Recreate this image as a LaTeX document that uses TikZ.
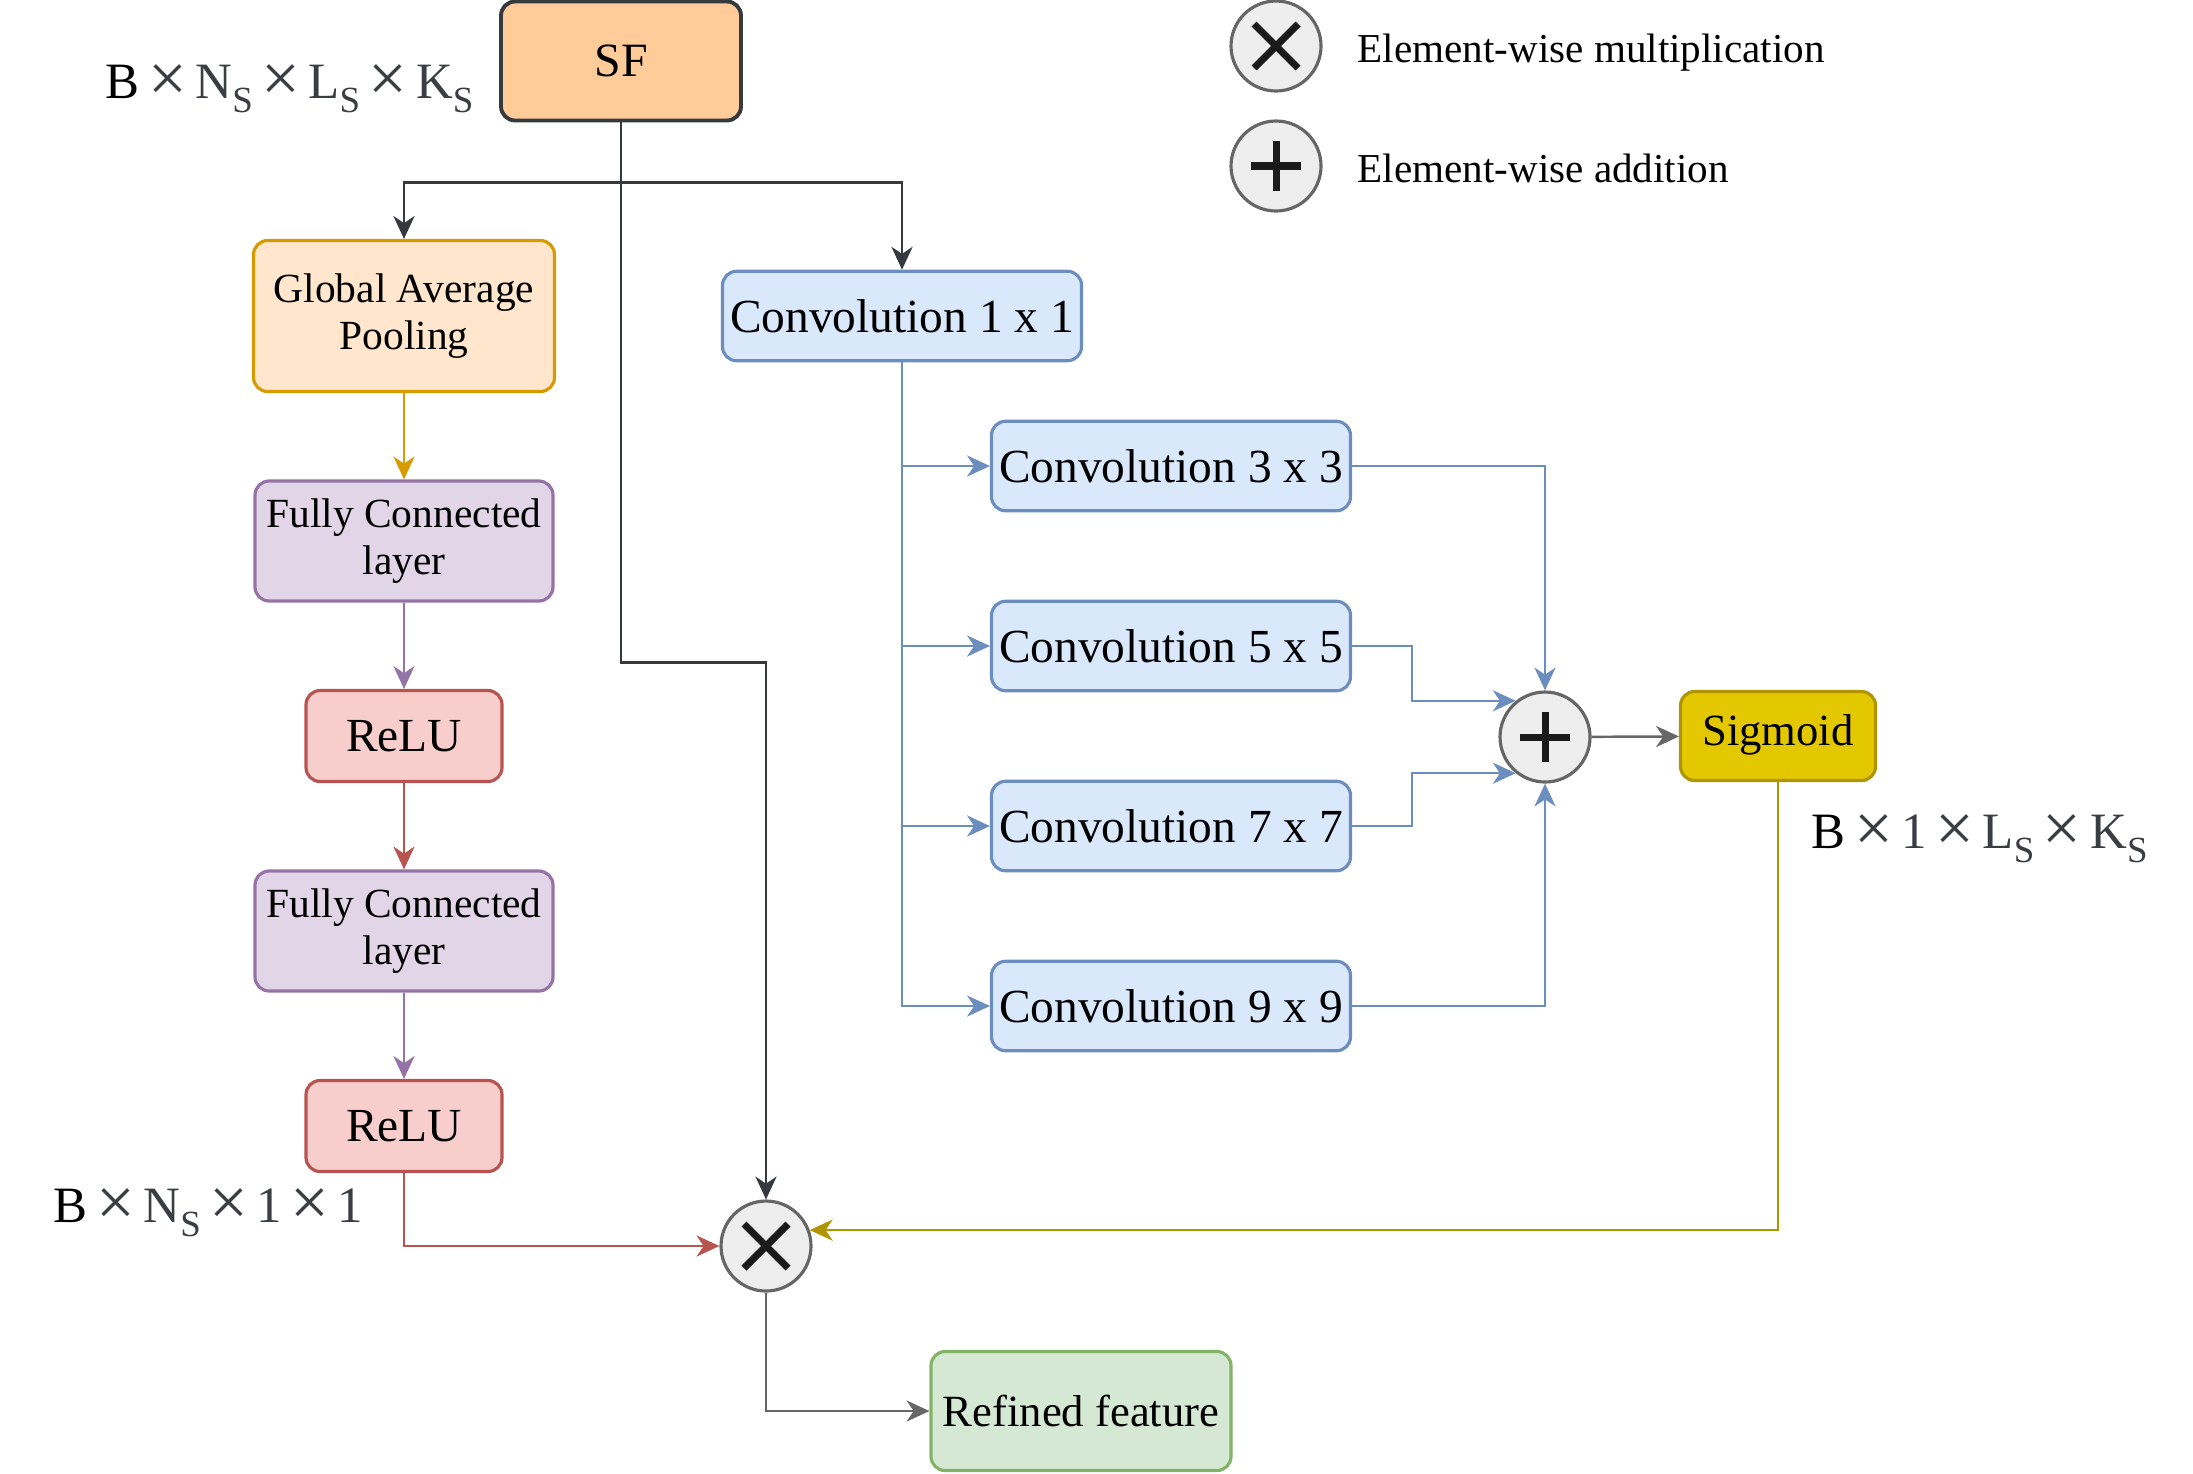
\documentclass[tikz,border=0pt]{standalone}
\usepackage{fontspec}
\usepackage{graphicx}
\setmainfont{Liberation Serif}
\usetikzlibrary{
  calc,positioning,
  arrows.meta
}

\definecolor{sfFill}{HTML}{FFCC99}\definecolor{sfLine}{HTML}{36393D}
\definecolor{gapFill}{HTML}{FFE6CC}\definecolor{gapLine}{HTML}{D79B00}
\definecolor{fcFill}{HTML}{E1D5E7}\definecolor{fcLine}{HTML}{9673A6}
\definecolor{reluFill}{HTML}{F8CECC}\definecolor{reluLine}{HTML}{B85450}
\definecolor{convFill}{HTML}{DAE8FC}\definecolor{convLine}{HTML}{6C8EBF}
\definecolor{sigFill}{HTML}{E3C800}\definecolor{sigLine}{HTML}{B09500}
\definecolor{refFill}{HTML}{D5E8D4}\definecolor{refLine}{HTML}{82B366}
\definecolor{opFill}{HTML}{EEEEEE}\definecolor{opLine}{HTML}{666666}
\definecolor{opSign}{HTML}{1A1A1A}\definecolor{dimGray}{HTML}{3A3D42}

\newcommand{\tms}{\,\raisebox{-0.15ex}{\scalebox{1.35}{\texttimes}}\,}
\newcommand{\subS}{\raisebox{-0.6ex}{\fontsize{10.5}{11}\selectfont S}}

\begin{document}
\begin{tikzpicture}[x=0.1mm,y=-0.1mm,
  box/.style={draw,rounded corners=4pt,line width=0.9pt,align=center,inner sep=0pt},
  sfbox/.style={box,fill=sfFill,draw=sfLine,line width=1.1pt,minimum width=24mm,minimum height=11.9mm,font=\fontsize{13.6}{15}\selectfont},
  gapbox/.style={box,fill=gapFill,draw=gapLine,minimum width=30.1mm,minimum height=15.1mm,font=\fontsize{11.8}{13.6}\selectfont},
  fcbox/.style={box,fill=fcFill,draw=fcLine,minimum width=29.8mm,minimum height=12mm,font=\fontsize{11.8}{13.6}\selectfont},
  relubox/.style={box,fill=reluFill,draw=reluLine,minimum width=19.6mm,minimum height=9.1mm,font=\fontsize{13.5}{15}\selectfont},
  convbox/.style={box,fill=convFill,draw=convLine,minimum width=35.9mm,minimum height=8.95mm,font=\fontsize{13.5}{15}\selectfont},
  sigbox/.style={box,fill=sigFill,draw=sigLine,minimum width=19.5mm,minimum height=8.9mm,font=\fontsize{12.7}{14}\selectfont},
  refbox/.style={box,fill=refFill,draw=refLine,minimum width=30mm,minimum height=11.9mm,font=\fontsize{12.7}{14}\selectfont},
  op/.style={circle,draw=opLine,fill=opFill,line width=0.9pt,minimum size=9mm,inner sep=0pt},
  mulop/.style={op,path picture={
    \draw[opSign,line width=2pt]
      ($(path picture bounding box.center)+(-2.2mm,-2.2mm)$) -- ++(4.4mm,4.4mm)
      ($(path picture bounding box.center)+(-2.2mm,2.2mm)$) -- ++(4.4mm,-4.4mm);}},
  addop/.style={op,path picture={
    \draw[opSign,line width=2pt]
      ($(path picture bounding box.center)+(-2.5mm,0mm)$) -- ++(5mm,0mm)
      ($(path picture bounding box.center)+(0mm,-2.5mm)$) -- ++(0mm,5mm);}},
  arr/.style={-{Stealth[length=6.5pt,width=6pt,inset=2pt]},line width=0.7pt},
  dim/.style={text=dimGray,font=\fontsize{14.5}{16}\selectfont,inner sep=0pt},
  legend/.style={font=\fontsize{11.7}{13}\selectfont,inner sep=0pt}
]
\useasboundingbox (0,0) rectangle (2193,1473);

% input and squeeze branch
\node[sfbox] (sf) at (621,61) {SF};
\node[gapbox] (gap) at (404,316) {Global Average\\Pooling};
\node[fcbox] (fc1) at (404,541) {Fully Connected\\layer};
\node[relubox] (relu1) at (404,736) {ReLU};
\node[fcbox] (fc2) at (404,931) {Fully Connected\\layer};
\node[relubox] (relu2) at (404,1126) {ReLU};

% multi-scale convolution branch
\node[convbox] (conv1) at (902,316) {Convolution 1 x 1};
\foreach \k/\y in {3/466,5/646,7/826,9/1006}
  \node[convbox] (conv\k) at (1171,\y) {Convolution \k{} x \k};
\node[addop] (add) at (1545,737) {};
\node[sigbox] (sigmoid) at (1778,736) {\strut Sigmoid};

% fusion
\node[mulop] (mul) at (766,1246) {};
\node[refbox] (refined) at (1081,1411) {Refined feature};

% shapes
\node[dim,anchor=base west] (dimsf) at (105,98)
  {\textcolor{black}{B}\tms N\subS\tms L\subS\tms K\subS};
\node[dim,anchor=base west] (dimch) at (53,1222)
  {\textcolor{black}{B}\tms N\subS\tms 1\tms 1};
\node[dim,anchor=base west] (dimsp) at (1811,848)
  {\textcolor{black}{B}\tms 1\tms L\subS\tms K\subS};

% legend
\node[mulop] (lmul) at (1276,46) {};
\node[legend,anchor=base west] (lmultxt) at (1357,62) {Element-wise multiplication};
\node[addop] (ladd) at (1276,166) {};
\node[legend,anchor=base west] (laddtxt) at (1357,182) {Element-wise addition};

% connectors
\draw[arr,sfLine] (sf.south) -- ++(0,60) -| (gap.north);
\draw[arr,sfLine] (sf.south) -- ++(0,60) -| (conv1.north);
\draw[arr,sfLine] (sf.south) -- ++(0,540) -| (mul.north);
\draw[arr,gapLine] (gap) -- (fc1);
\draw[arr,fcLine] (fc1) -- (relu1);
\draw[arr,reluLine] (relu1) -- (fc2);
\draw[arr,fcLine] (fc2) -- (relu2);
\draw[arr,reluLine] (relu2.south) |- (mul.west);

\foreach \k in {3,5,7,9}
  \draw[arr,convLine] (conv1.south) |- (conv\k.west);
\draw[arr,convLine] (conv3.east) -| (add.north);
\draw[arr,convLine] (conv5.east) -- ++(60,0) |- (add.129);
\draw[arr,convLine] (conv7.east) -- ++(60,0) |- (add.231);
\draw[arr,convLine] (conv9.east) -| (add.south);
\draw[arr,opLine] (add) -- (sigmoid);
\draw[arr,sigLine] (sigmoid.south) |- (mul.20);
\draw[arr,opLine] (mul.south) |- (refined.west);
\end{tikzpicture}
\end{document}
